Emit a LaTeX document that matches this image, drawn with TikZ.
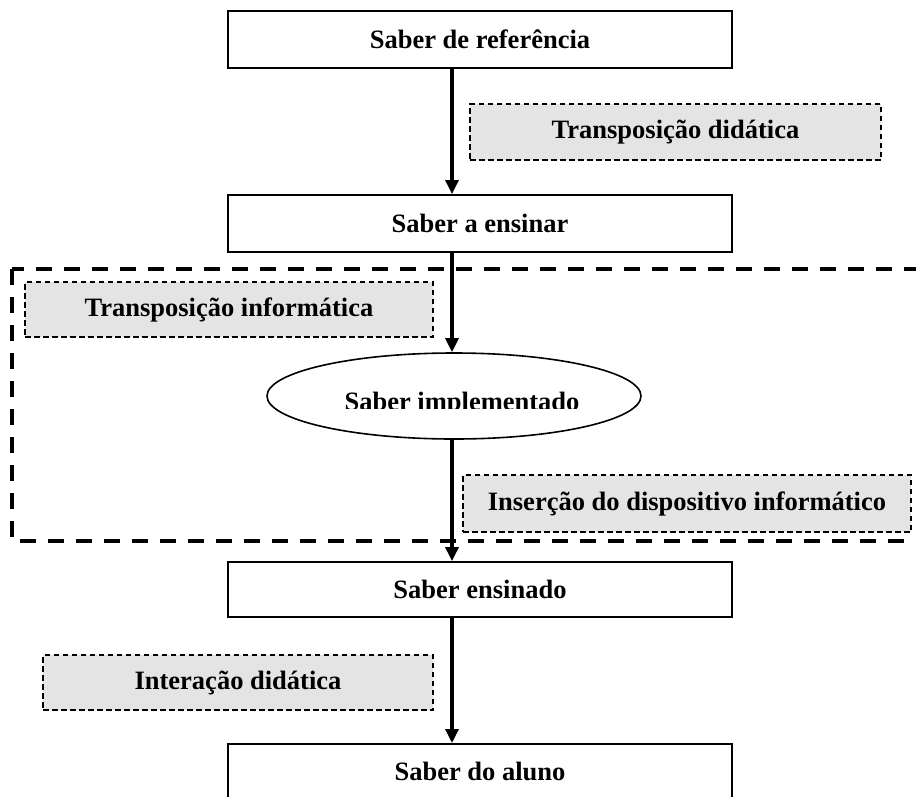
\documentclass[tikz,border=0pt]{standalone}
\usepackage{fontspec}
\setmainfont{Liberation Serif}
\usetikzlibrary{arrows.meta,shapes.geometric}
\definecolor{notefill}{HTML}{E4E4E4}
\begin{document}
\begin{tikzpicture}[x=1pt,y=-1pt,
  every node/.style={font=\fontsize{26.5}{30}\selectfont\bfseries, inner sep=0pt},
  knowbox/.style={draw, line width=1.9pt, minimum width=504pt, minimum height=57pt},
  notebox/.style={draw, dash pattern=on 5.5pt off 3.5pt, line width=1.4pt, fill=notefill},
  flow/.style={line width=3.3pt, -{Triangle[width=13pt,length=14pt]}},
  frame/.style={line width=4pt, dash pattern=on 16pt off 12pt}]
\useasboundingbox (0,0) rectangle (916,796);

% dashed frame around the computer-related stage
\draw[frame] (12,269) rectangle (950,541);

% stages of knowledge
\node[knowbox] (ref) at (480,39.5) {Saber de referência};
\node[knowbox] (ens) at (480,223.5) {Saber a ensinar};
\node[knowbox, minimum height=55pt] (ensd) at (480,589.5) {Saber ensinado};
\node[knowbox, minimum height=55pt, anchor=north] (aluno) at (480,743) {Saber do aluno};
\node[draw, ellipse, line width=1.6pt, minimum width=374pt, minimum height=86pt] (impl) at (454,396) {};
\begin{scope}
  \clip (300,380) rectangle (620,408);
  \node[anchor=base] (impltxt) at (462,410.5) {Saber implementado};
\end{scope}

% transformation labels
\node[notebox, minimum width=411pt, minimum height=56pt] (tdid) at (675.5,132) {Transposição didática};
\node[notebox, minimum width=408pt, minimum height=55pt] (tinf) at (229,309.5) {Transposição informática};
\node[notebox, minimum width=448pt, minimum height=57pt] (insd) at (687,503.5) {Inserção do dispositivo informático};
\node[notebox, minimum width=390pt, minimum height=55pt] (idid) at (238,682.5) {Interação didática};

% main flow
\coordinate (spine) at (452,0);
\draw[flow] (spine |- ref.south) -- (spine |- ens.north);
\draw[flow] (spine |- ens.south) -- (spine |- impl.north);
\draw[flow] (spine |- impl.south) -- (spine |- ensd.north);
\draw[flow] (spine |- ensd.south) -- (spine |- aluno.north);
\end{tikzpicture}
\end{document}
